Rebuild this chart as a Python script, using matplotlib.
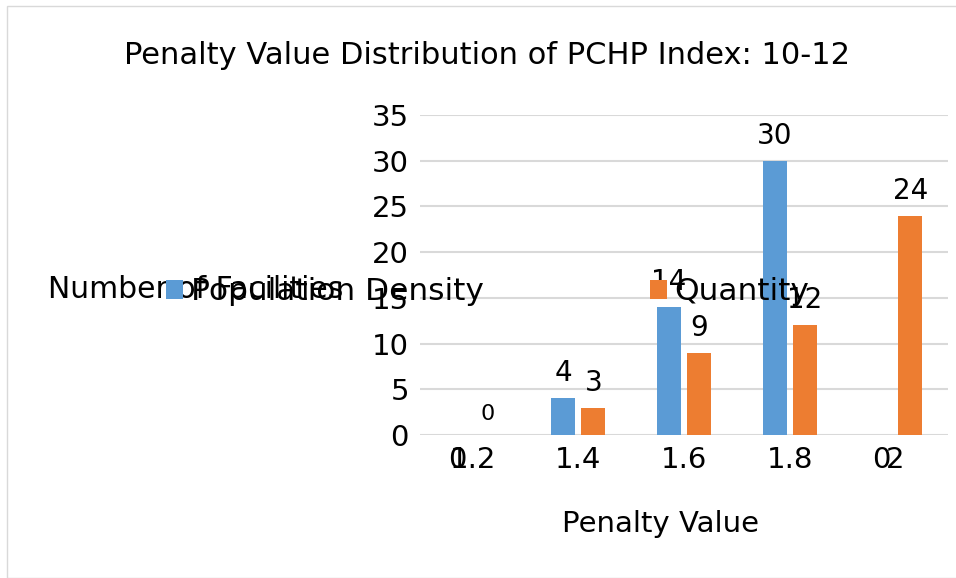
import numpy as np
import matplotlib
matplotlib.use('Agg')
import matplotlib.pyplot as plt
from matplotlib.patches import Rectangle

# Datos del gráfico
categorias = ['1.2', '1.4', '1.6', '1.8', '2']
densidad = [np.nan, 4, 14, 30, np.nan]
cantidad = [0, 3, 9, 12, 24]
etiquetas_densidad = ['', '4', '14', '30', '']
etiquetas_cantidad = ['0', '3', '9', '12', '24']

azul = '#5b9bd5'
naranja = '#ed7d31'

fig = plt.figure(figsize=(9.56, 5.78), dpi=100)
ax = fig.add_axes([420 / 956, 1 - 435 / 578, 528 / 956, 320 / 578])

x = np.arange(len(categorias))
ancho = 0.227
desp = 0.142
b1 = ax.bar(x - desp, densidad, ancho, color=azul, label='Population Density', zorder=3)
b2 = ax.bar(x + desp, cantidad, ancho, color=naranja, label='Quantity', zorder=3)

# Etiquetas de datos
for xi, v, t in zip(x, densidad, etiquetas_densidad):
    if t:
        ax.text(xi - desp, v + 1.2, t, ha='center', va='bottom', fontsize=20)
for xi, v, t in zip(x, cantidad, etiquetas_cantidad):
    if t:
        ax.text(xi + desp, v + 1.2, t, ha='center', va='bottom', fontsize=20 if v > 0 else 16)

ax.set_xlim(-0.5, 4.5)
ax.set_ylim(0, 35)
ax.set_yticks(range(0, 36, 5))
ax.grid(axis='y', color='#d9d9d9', linewidth=1.5, zorder=0)
for s in ax.spines.values():
    s.set_visible(False)
ax.tick_params(length=0, labelsize=21, pad=8)
ax.set_xticks(x)
ax.set_xticklabels(categorias)

# Ceros superpuestos en las etiquetas del eje x
for xi, dx in [(0, -0.15), (4, -0.13)]:
    ax.text(xi + dx, -11 / 320, '0', transform=ax.get_xaxis_transform(),
            ha='center', va='top', fontsize=21)

ax.set_xlabel('Penalty Value', fontsize=21)
ax.xaxis.set_label_coords(0.455, -0.235)
ax.set_ylabel('Number of Facilities', fontsize=21.5, rotation=0, ha='left', va='center')
ax.yaxis.set_label_coords(-0.705, 0.456)

fig.text(487 / 956, 1 - 55 / 578, 'Penalty Value Distribution of PCHP Index: 10-12',
         ha='center', va='center', fontsize=22)

fig.legend(handles=[b1, b2], ncol=2, frameon=False, fontsize=22.5,
           loc='center left', bbox_to_anchor=(166 / 956, 1 - 292 / 578),
           handlelength=0.55, handleheight=0.55, handletextpad=0.25,
           columnspacing=5.3, borderaxespad=0, borderpad=0)

# Borde de la figura
fig.patches.append(Rectangle((7 / 956, 0), 1, 1 - 6 / 578, transform=fig.transFigure,
                             fill=False, edgecolor='#d9d9d9', linewidth=1))

fig.savefig('out.png', dpi=100)
